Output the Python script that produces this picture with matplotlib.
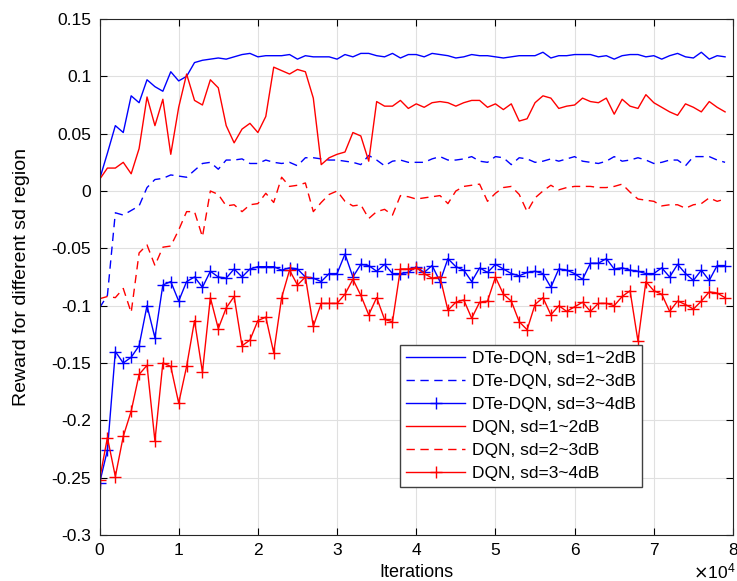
import matplotlib
matplotlib.use("Agg")
import matplotlib.pyplot as plt
import numpy as np

plt.rcParams['font.family'] = ['Liberation Sans', 'DejaVu Sans']

# iterations: one sample every 1000 iterations
iterations = np.arange(80) * 1000

# DTe-DQN, sd=1~2dB
dte_12 = [0.010, 0.033, 0.057, 0.051, 0.083, 0.077, 0.097, 0.091, 0.087, 0.104,
          0.096, 0.100, 0.112, 0.114, 0.115, 0.116, 0.115, 0.117, 0.119, 0.120,
          0.117, 0.118, 0.118, 0.118, 0.119, 0.115, 0.118, 0.117, 0.117, 0.117,
          0.115, 0.119, 0.117, 0.120, 0.120, 0.118, 0.117, 0.120, 0.116, 0.119,
          0.119, 0.117, 0.120, 0.119, 0.118, 0.116, 0.117, 0.119, 0.118, 0.118,
          0.117, 0.116, 0.117, 0.118, 0.118, 0.118, 0.121, 0.116, 0.118, 0.118,
          0.119, 0.119, 0.119, 0.117, 0.118, 0.115, 0.118, 0.119, 0.119, 0.117,
          0.118, 0.115, 0.118, 0.120, 0.117, 0.116, 0.121, 0.115, 0.118, 0.117]

# DTe-DQN, sd=2~3dB
dte_23 = [-0.102, -0.091, -0.019, -0.021, -0.017, -0.013, 0.003, 0.010, 0.011, 0.014,
          0.013, 0.012, 0.018, 0.024, 0.025, 0.019, 0.027, 0.027, 0.028, 0.024,
          0.024, 0.027, 0.025, 0.024, 0.025, 0.022, 0.029, 0.029, 0.028, 0.027,
          0.027, 0.026, 0.025, 0.023, 0.031, 0.027, 0.022, 0.026, 0.027, 0.025,
          0.025, 0.025, 0.028, 0.030, 0.027, 0.027, 0.028, 0.030, 0.026, 0.025,
          0.030, 0.029, 0.023, 0.029, 0.028, 0.025, 0.026, 0.028, 0.026, 0.028,
          0.030, 0.026, 0.025, 0.024, 0.026, 0.030, 0.026, 0.027, 0.029, 0.027,
          0.024, 0.025, 0.027, 0.027, 0.022, 0.030, 0.030, 0.030, 0.027, 0.025]

# DTe-DQN, sd=3~4dB
dte_34 = [-0.255, -0.226, -0.140, -0.150, -0.145, -0.135, -0.100, -0.128, -0.082, -0.079,
          -0.096, -0.079, -0.075, -0.084, -0.070, -0.075, -0.076, -0.068, -0.075, -0.068,
          -0.066, -0.066, -0.066, -0.069, -0.067, -0.068, -0.075, -0.076, -0.079, -0.072,
          -0.072, -0.055, -0.075, -0.064, -0.065, -0.070, -0.064, -0.072, -0.072, -0.071,
          -0.066, -0.071, -0.065, -0.079, -0.059, -0.066, -0.069, -0.079, -0.067, -0.071,
          -0.064, -0.068, -0.072, -0.074, -0.071, -0.070, -0.072, -0.084, -0.068, -0.069,
          -0.072, -0.077, -0.063, -0.063, -0.059, -0.068, -0.067, -0.069, -0.070, -0.072,
          -0.072, -0.067, -0.075, -0.064, -0.072, -0.078, -0.069, -0.078, -0.065, -0.065]

# DQN, sd=1~2dB
dqn_12 = [0.010, 0.020, 0.020, 0.025, 0.015, 0.037, 0.082, 0.057, 0.080, 0.032,
          0.073, 0.102, 0.079, 0.075, 0.097, 0.090, 0.057, 0.042, 0.054, 0.059,
          0.051, 0.065, 0.108, 0.105, 0.102, 0.106, 0.104, 0.081, 0.023, 0.029,
          0.032, 0.034, 0.051, 0.048, 0.026, 0.078, 0.074, 0.074, 0.079, 0.072,
          0.076, 0.073, 0.077, 0.078, 0.077, 0.074, 0.077, 0.079, 0.079, 0.073,
          0.076, 0.071, 0.076, 0.061, 0.063, 0.077, 0.083, 0.081, 0.072, 0.074,
          0.075, 0.081, 0.078, 0.077, 0.081, 0.067, 0.080, 0.074, 0.072, 0.084,
          0.077, 0.073, 0.069, 0.066, 0.076, 0.073, 0.069, 0.078, 0.073, 0.069]

# DQN, sd=2~3dB
dqn_23 = [-0.094, -0.092, -0.093, -0.085, -0.106, -0.054, -0.047, -0.065, -0.049, -0.048,
          -0.034, -0.018, -0.018, -0.040, 0.000, -0.003, -0.013, -0.012, -0.018, -0.012,
          -0.011, -0.002, -0.010, 0.012, 0.004, 0.005, 0.007, -0.018, -0.010, -0.003,
          0.000, -0.009, -0.013, -0.012, -0.024, -0.018, -0.016, -0.021, -0.004, -0.005,
          -0.007, -0.006, -0.005, -0.004, -0.011, 0.000, 0.004, 0.005, 0.006, -0.009,
          -0.002, 0.003, 0.004, -0.003, -0.018, -0.006, 0.000, 0.005, 0.001, 0.003,
          0.004, 0.004, 0.004, 0.003, 0.003, 0.004, 0.006, -0.001, -0.007, -0.008,
          -0.009, -0.013, -0.012, -0.012, -0.015, -0.012, -0.011, -0.006, -0.009, -0.007]

# DQN, sd=3~4dB
dqn_34 = [-0.252, -0.215, -0.249, -0.214, -0.192, -0.160, -0.152, -0.218, -0.150, -0.153,
          -0.185, -0.153, -0.113, -0.158, -0.093, -0.120, -0.102, -0.092, -0.135, -0.130,
          -0.113, -0.110, -0.141, -0.093, -0.069, -0.082, -0.075, -0.118, -0.098, -0.098,
          -0.098, -0.090, -0.077, -0.091, -0.108, -0.093, -0.112, -0.114, -0.068, -0.068,
          -0.067, -0.072, -0.076, -0.075, -0.104, -0.097, -0.095, -0.111, -0.097, -0.096,
          -0.075, -0.090, -0.096, -0.114, -0.121, -0.099, -0.093, -0.108, -0.100, -0.105,
          -0.101, -0.097, -0.105, -0.098, -0.098, -0.100, -0.092, -0.087, -0.131, -0.079,
          -0.087, -0.090, -0.105, -0.096, -0.099, -0.103, -0.096, -0.088, -0.089, -0.093]

labels = ['DTe-DQN, sd=1~2dB', 'DTe-DQN, sd=2~3dB', 'DTe-DQN, sd=3~4dB',
          'DQN, sd=1~2dB', 'DQN, sd=2~3dB', 'DQN, sd=3~4dB']

fig = plt.figure(figsize=(7.37, 5.81), dpi=100)
ax = fig.add_axes([99.5 / 737, 1 - 535 / 581, 633.5 / 737, 516 / 581])

blue = (0, 0, 1)
red = (1, 0, 0)
lw = 1.0
ax.plot(iterations, dte_12, color=blue, lw=lw, label=labels[0])
ax.plot(iterations, dte_23, color=blue, lw=lw, ls=(0, (6, 4)), label=labels[1])
ax.plot(iterations, dte_34, color=blue, lw=lw, marker='+', ms=9, mew=1, label=labels[2])
ax.plot(iterations, dqn_12, color=red, lw=lw, label=labels[3])
ax.plot(iterations, dqn_23, color=red, lw=lw, ls=(0, (6, 4)), label=labels[4])
ax.plot(iterations, dqn_34, color=red, lw=lw, marker='+', ms=9, mew=1, label=labels[5])

ax.set_xlim(0, 80000)
ax.set_ylim(-0.3, 0.15)
ax.set_xticks(np.arange(0, 80001, 10000))
ax.set_xticklabels([str(v) for v in range(9)])
ax.set_yticks(np.arange(-0.3, 0.1501, 0.05))
ax.set_yticklabels(['-0.3', '-0.25', '-0.2', '-0.15', '-0.1', '-0.05', '0', '0.05', '0.1', '0.15'])
# x multiplier, placed like MATLAB's exponent label
fig.text(735 / 737, 1 - 578 / 581, r'$\times\mathregular{10^{4}}$', ha='right', va='baseline',
         fontsize=12.5)

ax.grid(True, color=(0.88, 0.88, 0.88), lw=0.8)
ax.set_axisbelow(True)
ax.tick_params(direction='in', top=True, right=True, labelsize=12.5, length=5, width=0.8, pad=6)
for s in ax.spines.values():
    s.set_color((0.15, 0.15, 0.15))
    s.set_linewidth(0.8)

ax.set_xlabel('Iterations', fontsize=13, labelpad=4)
ax.set_ylabel('Reward for different sd region', fontsize=14)
ax.yaxis.set_label_coords(-0.11, 0.5)

leg = ax.legend(loc='upper left', bbox_to_anchor=(400 / 737, 1 - 345 / 581),
                bbox_transform=fig.transFigure, fontsize=12.5, fancybox=False,
                framealpha=1, edgecolor=(0.25, 0.25, 0.25), handlelength=3.4,
                numpoints=1, borderpad=0.35, labelspacing=0.45, handletextpad=0.4,
                borderaxespad=0)
leg.get_frame().set_linewidth(1.0)

fig.savefig('out.png', dpi=100)
